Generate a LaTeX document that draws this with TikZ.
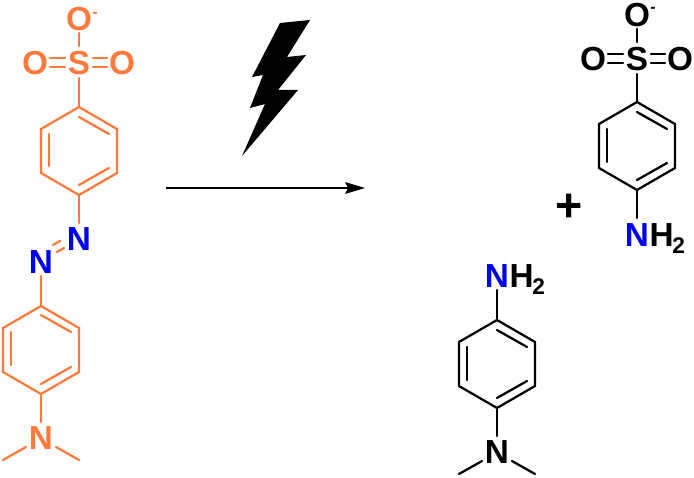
\documentclass[tikz,border=0pt]{standalone}
\usepackage{fontspec}
\setmainfont{Liberation Sans}
\definecolor{azoorange}{RGB}{255,122,60}
\definecolor{azoblue}{RGB}{0,0,240}
\tikzset{
  x=0.75pt,y=-0.75pt,
  atomlabel/.style={inner sep=0pt,font=\bfseries\fontsize{25}{25}\selectfont},
  chargelabel/.style={inner sep=0pt,font=\bfseries\fontsize{12}{12}\selectfont},
  sublabel/.style={inner sep=0pt,font=\bfseries\fontsize{17}{17}\selectfont,anchor=north west},
  bondline/.style={line width=1.7pt,line cap=round},
  orangebond/.style={bondline,draw=azoorange},
  blackbond/.style={bondline,draw=black},
}
\begin{document}
\begin{tikzpicture}
\useasboundingbox (0,0) rectangle (694,478);
% ---- reactant, top ring
\coordinate (r1a) at (79,107);
\coordinate (r1b) at (117,129);
\coordinate (r1c) at (117,173);
\coordinate (r1d) at (79,195);
\coordinate (r1e) at (41,173);
\coordinate (r1f) at (41,129);
\node[atomlabel,text=azoorange] (s1) at (79,63) {S};
\node[atomlabel,text=azoorange] (o1t) at (79,19) {O};
\node[atomlabel,text=azoorange] (o1l) at (35,63) {O};
\node[atomlabel,text=azoorange] (o1r) at (122,63) {O};
\node[chargelabel,text=azoorange] (m1) at (95,15) {-};
\node[atomlabel,text=azoblue] (n1) at (79,239) {N};
\node[atomlabel,text=azoblue] (n2) at (41,262) {N};
\draw[orangebond] (r1a)--(r1b)--(r1c)--(r1d)--(r1e)--(r1f)--cycle;
\draw[orangebond] (79,117)--(109,134);
\draw[orangebond] (109,168)--(79,185);
\draw[orangebond] (49,166)--(49,134);
\draw[orangebond] (79,33)--(79,46);
\draw[orangebond] (79,78)--(r1a);
\draw[orangebond] (50,58)--(65,58) (50,67)--(65,67);
\draw[orangebond] (93,58)--(107,58) (93,67)--(107,67);
\draw[orangebond] (r1d)--(79,223);
\draw[orangebond] (53,245)--(60,241) (57,252)--(64,248);
% ---- reactant, bottom ring
\coordinate (r2a) at (41,306);
\coordinate (r2b) at (79,328);
\coordinate (r2c) at (79,372);
\coordinate (r2d) at (41,394);
\coordinate (r2e) at (3,372);
\coordinate (r2f) at (3,328);
\node[atomlabel,text=azoorange] (n3) at (41,438) {N};
\draw[orangebond] (41,276)--(r2a);
\draw[orangebond] (r2a)--(r2b)--(r2c)--(r2d)--(r2e)--(r2f)--cycle;
\draw[orangebond] (41,315)--(71,332);
\draw[orangebond] (71,367)--(41,384);
\draw[orangebond] (11,365)--(11,332);
\draw[orangebond] (r2d)--(41,422);
\coordinate (me1) at (3,460);
\coordinate (me2) at (79,460);
\draw[orangebond] (26,447)--(me1);
\draw[orangebond] (56,447)--(me2);
% ---- flash and arrow
\fill (280,23) -- (310,20) -- (287,57) -- (306,55) -- (278,90) -- (298,90) -- (242,156) -- (265,104) -- (250,108) -- (263,75) -- (252,77) -- cycle;
\coordinate (arrowstart) at (166,188);
\coordinate (arrowend) at (365,188);
\draw[line width=1.5pt] (arrowstart)--(350,188);
\fill (arrowend) -- (345,182) -- (348,188) -- (345,194) -- cycle;
% ---- product, sulfanilate
\coordinate (p1a) at (637,102);
\coordinate (p1b) at (675,124);
\coordinate (p1c) at (675,168);
\coordinate (p1d) at (637,190);
\coordinate (p1e) at (599,168);
\coordinate (p1f) at (599,124);
\node[atomlabel] (s2) at (637,59) {S};
\node[atomlabel] (o2t) at (637,15) {O};
\node[atomlabel] (o2l) at (593,59) {O};
\node[atomlabel] (o2r) at (680,59) {O};
\node[chargelabel] (m2) at (653,10) {-};
\node[atomlabel,text=azoblue] (n4) at (637,235) {N};
\node[atomlabel,anchor=west] (h1) at (n4.east) {H};
\node[sublabel] (h1s) at (672,237) {2};
\draw[blackbond] (p1a)--(p1b)--(p1c)--(p1d)--(p1e)--(p1f)--cycle;
\draw[blackbond] (637,112)--(667,129);
\draw[blackbond] (667,163)--(637,180);
\draw[blackbond] (607,162)--(607,129);
\draw[blackbond] (637,29)--(637,42);
\draw[blackbond] (637,74)--(p1a);
\draw[blackbond] (608,54)--(623,54) (608,63)--(623,63);
\draw[blackbond] (651,54)--(665,54) (651,63)--(665,63);
\draw[blackbond] (p1d)--(637,218);
% ---- plus
\node[inner sep=0pt,font=\bfseries\fontsize{35}{35}\selectfont] (plus) at (569,208) {+};
% ---- product, dimethylaminoaniline
\coordinate (p2a) at (497,320);
\coordinate (p2b) at (535,342);
\coordinate (p2c) at (535,386);
\coordinate (p2d) at (497,408);
\coordinate (p2e) at (459,386);
\coordinate (p2f) at (459,342);
\node[atomlabel,text=azoblue] (n5) at (497,276) {N};
\node[atomlabel,anchor=west] (h2) at (n5.east) {H};
\node[sublabel] (h2s) at (532,278) {2};
\node[atomlabel] (n6) at (497,452) {N};
\draw[blackbond] (497,290)--(p2a);
\draw[blackbond] (p2a)--(p2b)--(p2c)--(p2d)--(p2e)--(p2f)--cycle;
\draw[blackbond] (497,330)--(527,347);
\draw[blackbond] (527,381)--(497,398);
\draw[blackbond] (467,380)--(467,347);
\draw[blackbond] (p2d)--(497,436);
\coordinate (me3) at (459,474);
\coordinate (me4) at (535,474);
\draw[blackbond] (482,461)--(me3);
\draw[blackbond] (512,461)--(me4);
\end{tikzpicture}
\end{document}
